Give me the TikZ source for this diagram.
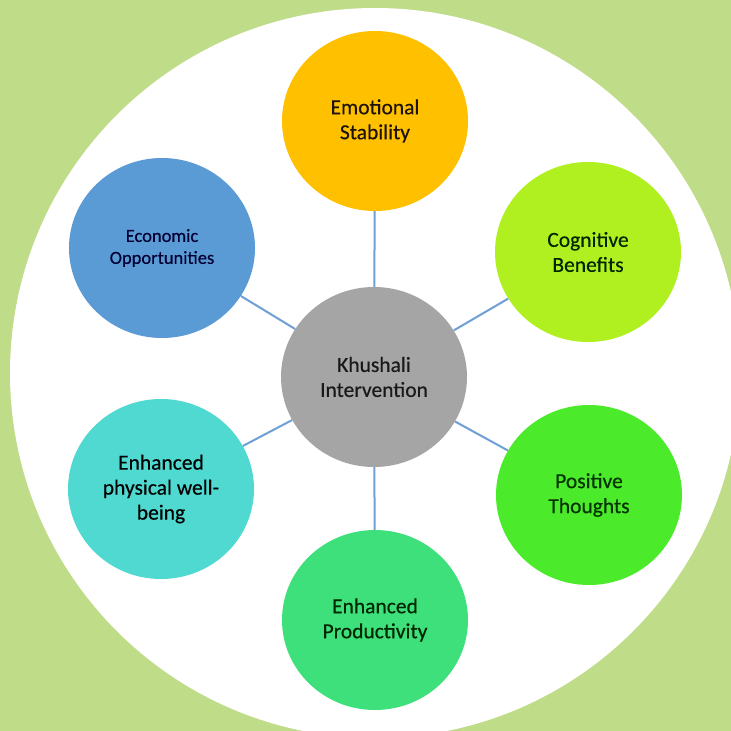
\documentclass[tikz,border=0pt]{standalone}
\usepackage{fontspec}
\setmainfont{Carlito}[FakeBold=0.35]
\usetikzlibrary{shapes.geometric}
\definecolor{bggreen}{HTML}{BFDC89}
\definecolor{cEmo}{HTML}{FFC000}
\definecolor{cEcon}{HTML}{5B9BD5}
\definecolor{cCog}{HTML}{B0F020}
\definecolor{cKh}{HTML}{A5A5A5}
\definecolor{cPhys}{HTML}{4FD9D0}
\definecolor{cPos}{HTML}{4BEA2A}
\definecolor{cProd}{HTML}{3DE07A}
\definecolor{cLine}{HTML}{6E9FD6}
\tikzset{
  bubble/.style={ellipse, minimum width=186pt, minimum height=180pt, inner sep=0pt,
    align=center, font=\fontsize{21.5}{25}\selectfont},
  link/.style={draw=cLine, line width=2pt}
}
\begin{document}
\begin{tikzpicture}[x=1pt,y=-1pt]
\useasboundingbox (0,0) rectangle (731,731);
\clip (0,0) rectangle (731,731);
\fill[bggreen] (0,0) rectangle (731,731);
\fill[white] (375,373) circle[radius=365];

\node[bubble, fill=cKh, text=black!90] (kh) at (374,377) {Khushali\\Intervention};
\node[bubble, fill=cEmo, text=black!85!brown] (emo) at (375,121) {Emotional\\Stability};
\node[bubble, fill=cEcon, text=black!80!blue, font=\fontsize{18.5}{22}\selectfont] (econ) at (162,248) {Economic\\Opportunities};
\node[bubble, fill=cCog, text=black!85!green] (cog) at (588,252) {Cognitive\\Benefits};
\node[bubble, fill=cPhys, text=black] (phys) at (161,489) {Enhanced\\physical well-\\being};
\node[bubble, fill=cPos, text=black!80!green] (pos) at (589,495) {Positive\\Thoughts};
\node[bubble, fill=cProd, text=black!85!green] (prod) at (375,620) {Enhanced\\Productivity};

\draw[link] (kh) -- (emo);
\draw[link] (kh) -- (econ);
\draw[link] (kh) -- (cog);
\draw[link] (kh) -- (phys);
\draw[link] (kh) -- (pos);
\draw[link] (kh) -- (prod);
\end{tikzpicture}
\end{document}
